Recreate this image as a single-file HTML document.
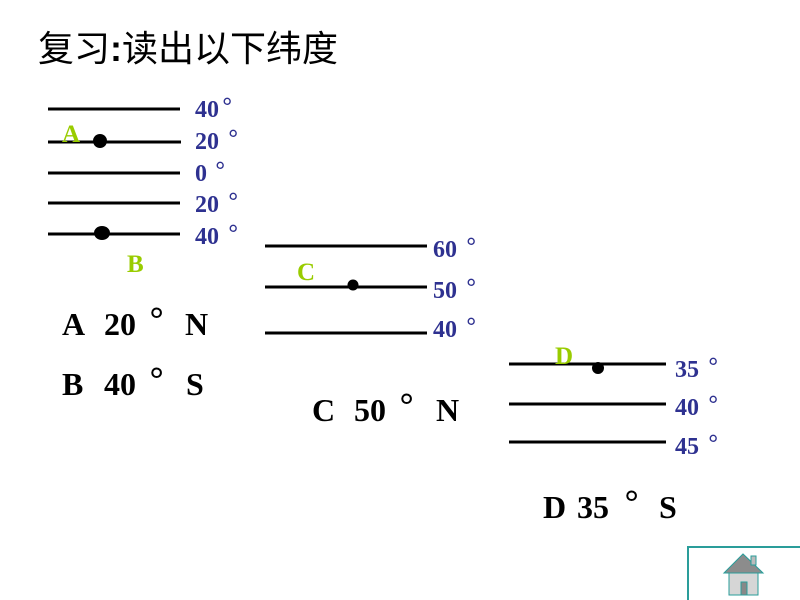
<!DOCTYPE html>
<html><head><meta charset="utf-8"><style>
html,body{margin:0;padding:0;background:#fff;width:800px;height:600px;overflow:hidden}
svg{display:block}
.l{stroke:#000;stroke-width:3}
.b{font-family:"Liberation Serif",serif;font-weight:bold;font-size:24px;fill:#2e3190}
.bd{font-family:"Liberation Sans",sans-serif;font-size:26px;fill:#2e3190}
.g{font-family:"Liberation Serif",serif;font-weight:bold;font-size:25px;fill:#99cc00}
.a{font-family:"Liberation Serif",serif;font-weight:bold;font-size:32px;fill:#000}
.ad{font-family:"Liberation Sans",sans-serif;font-size:38px;fill:#000}
</style></head><body>
<svg width="800" height="600" xmlns="http://www.w3.org/2000/svg">
<text x="38" y="61" font-family="'Liberation Sans','Noto Sans CJK SC',sans-serif" font-size="36" fill="#000">复习<tspan font-weight="bold">:</tspan>读出以下纬度</text>
<line class="l" x1="48" y1="109" x2="180" y2="109"/>
<line class="l" x1="48" y1="142" x2="181" y2="142"/>
<line class="l" x1="48" y1="173" x2="180" y2="173"/>
<line class="l" x1="48" y1="203" x2="180" y2="203"/>
<line class="l" x1="48" y1="234" x2="180" y2="234"/>
<text class="b" x="195" y="117">40</text><text class="bd" x="222" y="116">°</text>
<text class="b" x="195" y="149">20</text><text class="bd" x="228" y="148">°</text>
<text class="b" x="195" y="181">0</text><text class="bd" x="215" y="180">°</text>
<text class="b" x="195" y="212">20</text><text class="bd" x="228" y="211">°</text>
<text class="b" x="195" y="244">40</text><text class="bd" x="228" y="243">°</text>
<text class="g" x="62" y="142">A</text>
<text class="g" x="127" y="272">B</text>
<circle cx="100" cy="141" r="7"/>
<ellipse cx="102" cy="233" rx="8" ry="7"/>

<line class="l" x1="265" y1="246" x2="427" y2="246"/>
<line class="l" x1="265" y1="287" x2="427" y2="287"/>
<line class="l" x1="265" y1="333" x2="427" y2="333"/>
<text class="b" x="433" y="257">60</text><text class="bd" x="466" y="256">°</text>
<text class="b" x="433" y="298">50</text><text class="bd" x="466" y="297">°</text>
<text class="b" x="433" y="337">40</text><text class="bd" x="466" y="336">°</text>
<text class="g" x="297" y="280">C</text>
<circle cx="353" cy="285" r="5.5"/>

<line class="l" x1="509" y1="364" x2="666" y2="364"/>
<line class="l" x1="509" y1="404" x2="666" y2="404"/>
<line class="l" x1="509" y1="442" x2="666" y2="442"/>
<text class="b" x="675" y="377">35</text><text class="bd" x="708" y="376">°</text>
<text class="b" x="675" y="415">40</text><text class="bd" x="708" y="414">°</text>
<text class="b" x="675" y="454">45</text><text class="bd" x="708" y="453">°</text>
<text class="g" x="555" y="364">D</text>
<circle cx="598" cy="368" r="6"/>

<text class="a" x="62" y="335">A</text><text class="a" x="104" y="335">20</text><text class="ad" x="149" y="334">°</text><text class="a" x="185" y="335">N</text>
<text class="a" x="62" y="395">B</text><text class="a" x="104" y="395">40</text><text class="ad" x="149" y="394">°</text><text class="a" x="186" y="395">S</text>
<text class="a" x="312" y="421">C</text><text class="a" x="354" y="421">50</text><text class="ad" x="399" y="420">°</text><text class="a" x="436" y="421">N</text>
<text class="a" x="543" y="518">D</text><text class="a" x="577" y="518">35</text><text class="ad" x="624" y="517">°</text><text class="a" x="659" y="518">S</text>

<polyline points="688,600 688,547 800,547" fill="none" stroke="#2a9d9a" stroke-width="2"/>
<polygon points="724,573 743,554 763,573" fill="#8c8c8c" stroke="#2a9d9a" stroke-width="1"/>
<rect x="751" y="556" width="5" height="9" fill="#bbb" stroke="#2a9d9a" stroke-width="1"/>
<rect x="729" y="573" width="29" height="22" fill="#d6d6d6" stroke="#2a9d9a" stroke-width="1"/>
<rect x="741" y="582" width="6" height="13" fill="#888" stroke="#2a9d9a" stroke-width="1"/>
</svg>
</body></html>
